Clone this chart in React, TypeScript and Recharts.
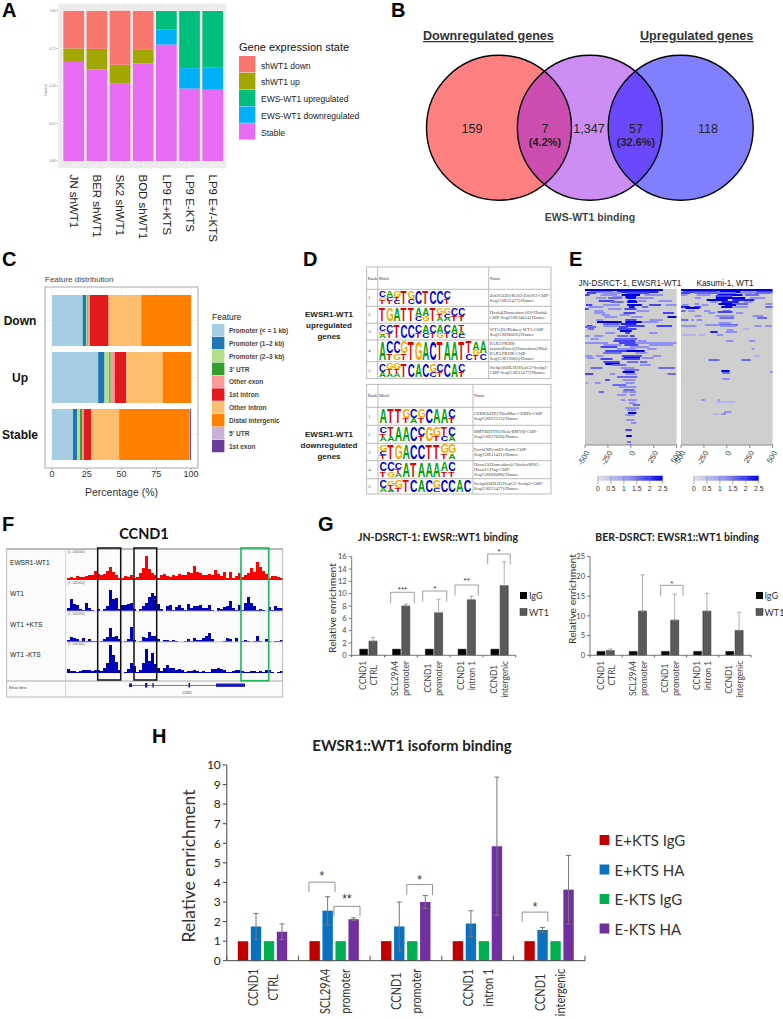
import {
  Bar,
  BarChart,
  CartesianGrid,
  ErrorBar,
  ReferenceArea,
  Scatter,
  ScatterChart,
  XAxis,
  YAxis,
} from "recharts";

// ---- panel A
const cellLines = ["JN shWT1", "BER shWT1", "SK2 shWT1", "BOD shWT1", "LP9 E+KTS", "LP9 E-KTS", "LP9 E+/-KTS"];
const stableFrac = [0.66, 0.61, 0.517, 0.65, 0.776, 0.483, 0.479];
const ewsDownFrac = [0, 0, 0, 0, 0.1, 0.136, 0.144];
const ewsUpFrac = [0, 0, 0, 0, 0.124, 0.381, 0.377];
const shUpFrac = [0.09, 0.137, 0.124, 0.09, 0, 0, 0];
const shDownFrac = [0.25, 0.253, 0.36, 0.26, 0, 0, 0];
const fractionTicks = [0, 0.25, 0.5, 0.75, 1];
const geneStates = ["shWT1 down", "shWT1 up", "EWS-WT1 upregulated", "EWS-WT1 downregulated", "Stable"];
const geneStateColors = ["#f8766d", "#a3a500", "#00bf7d", "#00b0f6", "#e76bf3"];

// ---- panel B
const vennSets = [0, 1, 2];
const vennFills = ["#ff8080", "#cc8ef5", "#8080ff"];
const vennLenses = [0.5, 1.5];
const vennLensFills = ["#cc4db0", "#6a48fb"];

// ---- panel C
const peakGroups = ["Down", "Up", "Stable"];
const featureNames = [
  "Promoter (< = 1 kb)", "Promoter (1–2 kb)", "Promoter (2–3 kb)", "3' UTR", "Other exon",
  "1st intron", "Other intron", "Distal intergenic", "5' UTR", "1st exon",
];
const featureColors = ["#a6cee3", "#1f78b4", "#b2df8a", "#33a02c", "#fb9a99", "#e31a1c", "#fdbf6f", "#ff7f00", "#cab2d6", "#6a3d9a"];
const downShares = [22.1, 2.4, 1, 0.7, 1, 13.5, 23.5, 35.8, 0, 0];
const upShares = [33.2, 4.6, 3.4, 1, 2.9, 8.4, 26, 20.5, 0, 0];
const stableShares = [15.1, 2.9, 2.2, 1.4, 1.2, 5.5, 20, 50.7, 0.2, 0.7];
const percentTicks = [0, 25, 50, 75, 100];

// ---- panel D
const upMotifs = [
  ["CGT", "ACT", "GTC", "T", "GC", "C", "T", "C", "C", "CT"],
  ["T", "G", "A", "T", "T", "AC", "AG", "T", "GTA", "GCA", "CT", "CT"],
  ["CGA", "CT", "T", "C", "C", "CT", "AC", "CT", "AG", "CT", "AC", "TAC"],
  ["A", "CT", "CG", "GT", "T", "G", "A", "C", "T", "A", "A", "T", "TC", "AGT", "AC"],
  ["CA", "GTA", "GTA", "T", "C", "A", "C", "GC", "CT", "C", "A", "CT"],
];
const downMotifs = [
  ["A", "T", "T", "GT", "CA", "GT", "C", "A", "A", "CT"],
  ["CTA", "TA", "A", "A", "C", "CT", "G", "GT", "TC", "CA"],
  ["GCT", "T", "G", "A", "C", "C", "T", "T", "GT", "GA"],
  ["CT", "CG", "CTA", "A", "T", "A", "A", "A", "AT", "CT"],
  ["CA", "GTA", "GT", "T", "C", "A", "C", "GC", "C", "C", "A", "C"],
];
const upMotifNames = [
  ["Znf263(Zf)/K562-Znf263-ChIP-", "Seq(GSE31477)/Homer"],
  ["Hoxb4(Homeobox)/ES-Hoxb4-", "ChIP-Seq(GSE34014)/Homer"],
  ["WT1(Zf)/Kidney-WT1-ChIP-", "Seq(GSE90016)/Homer"],
  ["PAX3:FKHR-", "fusion(Paired,Homeobox)/Rh4-", "PAX3:FKHR-ChIP-", "Seq(GSE19063)/Homer"],
  ["Srebp2(bHLH)/HepG2-Srebp2-", "ChIP-Seq(GSE31477)/Homer"],
];
const downMotifNames = [
  ["CEBP(bZIP)/ThioMac-CEBPb-ChIP-", "Seq(GSE21512)/Homer"],
  ["BMYB(HTH)/Hela-BMYB-ChIP-", "Seq(GSE27030)/Homer"],
  ["Esrrb(NR)/mES-Esrrb-ChIP-", "Seq(GSE11431)/Homer"],
  ["Hoxa13(Homeobox)/ChickenMSG-", "Hoxa13.Flag-ChIP-", "Seq(GSE86088)/Homer"],
  ["Srebp2(bHLH)/HepG2-Srebp2-ChIP-", "Seq(GSE31477)/Homer"],
];

// ---- panel E: [row, from, to, level]
const jnStreaks = [
  [0, -500, 350, 3], [2, -450, -200, 1.5], [2, -150, 300, 2.5], [3, -480, -380, 2], [3, -300, -100, 1], [3, -50, 200, 2],
  [5, -500, -450, 2], [5, -330, -150, 1], [5, -100, 100, 3], [5, 150, 350, 1], [7, -200, -90, 1], [7, -60, 60, 3],
  [8, -380, -270, 1], [8, -250, -100, 1.5], [8, -50, 50, 3], [8, 60, 250, 1], [11, -350, -180, 2], [11, -30, 60, 3],
  [11, 80, 170, 1], [11, 300, 450, 1], [12, -220, -80, 1.5], [12, -40, 70, 3], [15, -490, -420, 2], [15, -300, -120, 1],
  [15, -40, 120, 3], [15, 200, 330, 2], [15, 380, 500, 1], [17, -460, -300, 1], [17, -20, 40, 3], [17, 120, 190, 1.5],
  [19, -500, -460, 2], [19, -250, -100, 1], [19, -70, 60, 2], [21, -400, -300, 1], [21, 60, 200, 1], [23, -400, -280, 1],
  [23, -80, 50, 2], [23, 350, 470, 2], [25, -320, -230, 1], [25, -120, -10, 1], [27, -290, -150, 1], [27, 0, 130, 1],
  [27, 400, 500, 3], [30, -380, -300, 1], [30, -60, 60, 2], [30, 200, 350, 1], [32, -370, -100, 3], [32, -60, 120, 3],
  [32, 120, 300, 1], [34, -300, -120, 1.5], [34, -110, 60, 2.5], [36, -480, -420, 2], [36, -300, -130, 1], [36, -60, 150, 2],
  [36, 280, 450, 2], [37, -500, -380, 1.5], [37, -130, -30, 2], [39, -470, -400, 1.5], [39, -150, 60, 2], [41, -120, 10, 3],
  [43, -280, -170, 1], [43, -60, -10, 2], [43, 200, 290, 1], [46, -500, -450, 1], [46, -400, -300, 1], [46, -150, -30, 1.5],
  [46, -10, 40, 2], [49, -440, -350, 1], [49, -180, 70, 1.5], [51, -190, 50, 2], [51, 80, 170, 1], [53, -500, -250, 1],
  [53, -130, 50, 2], [53, 50, 500, 1], [55, -300, -100, 1], [55, -70, 80, 2], [55, 200, 460, 1], [57, -330, -150, 2],
  [57, -10, 200, 1], [59, -150, 50, 1], [59, 180, 280, 1], [61, -280, -50, 2], [61, -50, 150, 3], [63, -300, -100, 1.5],
  [63, 50, 180, 1], [66, -500, -420, 1], [66, -380, -300, 1], [66, -100, 120, 2], [66, 240, 330, 1], [68, -480, -400, 1],
  [68, -80, 100, 3], [68, 120, 250, 1], [69, -330, -200, 2], [69, -100, 100, 2], [72, -300, -120, 2], [72, -40, 80, 1.5],
  [72, 100, 180, 1.5], [74, -280, -120, 3], [75, -200, -50, 1.5], [75, 100, 220, 1], [78, -440, -310, 1.5], [78, -110, 40, 1],
  [78, 300, 480, 1.5], [80, -70, 90, 1.5], [82, -90, 40, 3], [84, -500, -410, 2], [84, -230, -170, 1], [84, -60, 60, 1],
  [84, 400, 490, 1.5], [87, -150, 70, 1.5], [90, -280, -230, 2], [90, -90, 50, 1], [93, -490, -470, 1], [93, -390, -330, 1],
  [93, -60, 40, 1], [95, -200, -50, 1.5], [97, -130, 60, 1], [100, -80, 40, 1.5], [102, -350, -290, 1.5], [102, -90, -30, 1],
  [102, -20, 60, 1], [105, -150, -50, 1], [105, -10, 50, 1], [110, -110, -60, 1], [110, -30, 70, 1], [113, -20, 50, 1],
  [115, 20, 100, 1.5], [118, -60, 90, 1], [120, -40, 60, 1], [123, -30, 60, 3], [125, -60, 40, 1], [130, -50, 40, 1],
  [133, 0, 60, 1], [140, -60, 10, 2], [146, -50, 10, 3], [152, -40, 0, 1.5], [155, -30, 20, 1],
];
const kasumiStreaks = [
  [0, -500, 500, 3], [2, -480, -100, 2], [2, -80, 150, 3], [2, 170, 300, 1], [2, 320, 500, 2], [3, -500, -400, 2],
  [3, -350, 100, 1.5], [3, 150, 280, 1], [3, 300, 480, 1.5], [5, -500, -430, 1], [5, -330, -180, 1], [5, -100, 170, 3],
  [5, 200, 350, 1.5], [6, -120, 60, 2], [8, -350, -280, 1], [8, -120, 200, 3], [8, 250, 420, 1], [10, -220, 10, 3],
  [10, 60, 300, 2.5], [12, -180, -100, 1], [12, -60, 130, 2.5], [12, 180, 280, 1], [14, -350, -300, 1], [14, -90, 60, 3],
  [14, 60, 230, 1.5], [14, 420, 500, 1], [15, -490, -420, 1], [15, -270, -200, 1], [15, -20, 100, 3], [17, -500, -400, 2.5],
  [17, -360, -280, 2], [17, -60, 60, 3], [17, 80, 230, 1], [17, 420, 500, 1.5], [18, -450, -300, 3], [21, -500, -450, 1.5],
  [21, -420, -350, 1], [21, -250, -180, 1], [21, -40, 40, 1.5], [22, -100, 60, 2], [23, -200, -130, 1], [23, 100, 180, 1],
  [26, -350, -280, 1], [26, -120, 80, 1], [26, 280, 400, 1], [28, -80, 80, 1.5], [28, 330, 440, 1.5], [30, -500, -420, 1.5],
  [30, -390, -360, 1], [30, -330, -270, 1], [33, -90, 50, 1], [35, -240, -80, 1], [35, -80, 120, 1.5], [36, -500, -330, 1],
  [36, -70, 100, 1], [36, 300, 380, 1], [36, 420, 490, 1], [39, 170, 240, 0.5], [40, 0, 70, 1], [42, -180, -100, 2.5],
  [42, -10, 110, 1], [45, -500, -340, 0.5], [45, -310, -240, 0.5], [45, -110, -40, 1], [51, -10, 70, 1], [51, 240, 310, 1],
  [59, 270, 300, 1], [66, 290, 360, 0.5], [70, -200, -80, 1.5], [70, 160, 260, 1.5], [81, -60, 30, 3], [82, 470, 500, 1],
  [83, -50, 30, 1.5], [89, -50, 30, 1], [110, -280, -240, 1], [110, -100, -80, 1], [112, -120, 90, 0.5], [122, -30, 50, 1],
  [124, -150, -80, 0.5], [124, -60, -10, 1],
];
const heatTicks = [-500, -250, 0, 250, 500];
const colorbarLabels = ["0", "0.5", "1", "1.5", "2", "2.5"];

// ---- panel F, one height per genome bin
const ewsr1Track = [2,3,2,4,3,3,4,5,5,9,6,5,6,9,13,8,5,2,2,4,3,5,2,3,7,12,24,11,7,5,2,5,6,4,3,5,4,6,5,5,8,7,14,8,7,5,5,6,5,10,6,4,8,2,8,2,4,7,3,5,7,12,8,18,13,9,6,2,4,4,3,2];
const wt1Track = [3,12,7,6,2,1,8,3,1,0,2,0,2,5,21,12,13,2,6,6,7,8,2,0,2,5,8,14,18,15,7,2,0,5,6,1,4,6,3,1,7,3,5,5,6,3,3,6,1,0,3,2,4,5,10,3,1,6,1,8,14,8,5,1,2,1,0,4,1,5,3,3];
const wt1PlusTrack = [2,5,4,3,1,4,1,3,1,1,0,1,3,5,14,5,6,3,0,1,3,15,2,0,1,5,4,10,6,6,3,0,2,2,1,2,1,0,0,1,3,1,4,2,2,4,6,9,3,0,0,0,1,4,3,0,4,0,1,2,1,0,1,6,1,0,3,1,0,1,1,2];
const wt1MinusTrack = [4,2,2,1,2,3,3,3,2,3,3,2,5,10,28,18,11,3,0,1,4,10,7,1,3,10,24,12,20,9,5,2,5,8,5,5,3,4,3,1,2,2,3,2,1,2,1,1,4,4,5,4,3,1,1,2,3,3,2,1,1,2,2,1,2,1,3,3,1,0,1,2];
const trackNames = ["EWSR1-WT1", "WT1", "WT1 +KTS", "WT1 -KTS"];

// ---- panel G
const chipCategories = ["CCND1\nCTRL", "SCL29A4\npromoter", "CCND1\npromoter", "CCND1\nintron 1", "CCND1\nintergenic"];
const jnIgg = [1, 1, 1, 1, 1];
const jnWt1 = [2.3, 8, 6.9, 9, 11.3];
const jnWt1Err = [0.6, 0.3, 2.2, 0.6, 3.9];
const jnTicks = [0, 2, 4, 6, 8, 10, 12, 14, 16];
const berIgg = [1, 1, 1, 1, 1];
const berWt1 = [1.2, 11.2, 8.9, 11.2, 6.3];
const berWt1Err = [0.4, 9.2, 6.6, 4.5, 4.6];
const berTicks = [0, 5, 10, 15, 20, 25];

// ---- panel H
const plusIgg = [1, 1, 1, 1, 1];
const plusHa = [1.75, 2.55, 1.75, 1.9, 1.57];
const plusHaErr = [0.67, 0.72, 1.25, 0.65, 0.13];
const minusIgg = [1, 1, 1, 1, 1];
const minusHa = [1.48, 2.12, 3, 5.85, 3.63];
const minusHaErr = [0.4, 0.07, 0.33, 3.53, 1.75];
const isoformTicks = [0, 1, 2, 3, 4, 5, 6, 7, 8, 9, 10];
const isoformNames = ["E+KTS IgG", "E+KTS HA", "E-KTS IgG", "E-KTS HA"];
const isoformColors = ["#c00000", "#0a70c0", "#00b050", "#7030a0"];

const ARIAL = "'Liberation Sans', Arial, sans-serif";
const CALIBRI = "Lato, sans-serif";
const SERIF = "'Liberation Serif', serif";

const levelColor = (level: number) =>
  ({ 0.5: "#b4b4ee", 1: "#8f8ff5", 1.5: "#6a6af5", 2: "#4545f5", 2.5: "#2222f0", 3: "#0000e0" } as Record<number, string>)[level];
const letterColor: Record<string, string> = { A: "#00a000", C: "#0000d0", G: "#f4a800", T: "#e00000" };

const measureCtx = document.createElement("canvas").getContext("2d")!;
function textWidth(s: string, size: number, font: string) {
  measureCtx.font = `${size}px ${font}`;
  return measureCtx.measureText(s).width;
}

function Box({ left, top, width, height, children }: any) {
  return <div style={{ position: "absolute", left, top, width, height }}>{children}</div>;
}

// two-line rotated category label, with Excel style ticks between the groups
function GroupTick({ x, y, payload, index, count, band, size, gap, top, color, tickLen, squeeze = 1 }: any) {
  const lines = String(payload.value).split("\n");
  const longest = Math.max(...lines.map((l) => textWidth(l, size, CALIBRI))) * squeeze;
  const cy = y + top + longest / 2;
  return (
    <g>
      <line x1={x - band / 2} x2={x - band / 2} y1={y} y2={y - tickLen} stroke="#555" />
      {index === count - 1 && <line x1={x + band / 2} x2={x + band / 2} y1={y} y2={y - tickLen} stroke="#555" />}
      {lines.map((l, i) => {
        const cx = x + (i === 0 ? -gap : gap);
        return (
          <text key={l} x={cx} y={cy} transform={`rotate(-90 ${cx} ${cy})`} textAnchor="middle" dominantBaseline="central"
            textLength={textWidth(l, size, CALIBRI) * squeeze} lengthAdjust="spacingAndGlyphs"
            fontSize={size} fontFamily={CALIBRI} fill={color}>{l}</text>
        );
      })}
    </g>
  );
}

function JnOrBerChart({ left, width, plotLeft, right, igg, wt1, err, max, ticks }: any) {
  const data = chipCategories.map((cat, i) => ({ cat, igg: igg[i], wt1: wt1[i], err: [0, err[i]] }));
  const band = (width - (plotLeft - left) - right) / chipCategories.length;
  return (
    <Box left={left} top={550} width={width} height={155}>
      <BarChart width={width} height={155} data={data} barSize={8} barGap={1.3} margin={{ top: 6.7, right, bottom: 0, left: 0 }}>
        <XAxis dataKey="cat" height={49.7} interval={0} tickLine={false} tickSize={0} tickMargin={0} stroke="#777"
          tick={(p: any) => <GroupTick {...p} count={5} band={band} size={8.5} gap={5.5} top={5.5} color="#444" tickLen={-2} />} />
        <YAxis width={plotLeft - left} domain={[0, max]} ticks={ticks} interval={0} stroke="#777" tickSize={3} tickMargin={2}
          tick={{ fontSize: 7.5, fill: "#444", fontFamily: CALIBRI }} />
        <Bar dataKey="igg" fill="#000" stroke="#222" strokeWidth={0.5} isAnimationActive={false} />
        <Bar dataKey="wt1" fill="#5a5a5a" stroke="#333" strokeWidth={0.6} isAnimationActive={false}>
          <ErrorBar dataKey="err" direction="y" width={2} stroke="#999" strokeWidth={0.8} />
        </Bar>
      </BarChart>
    </Box>
  );
}

function Heatmap({ left, streaks }: any) {
  return (
    <Box left={left - 14} top={285} width={114} height={195}>
      <BarChart width={114} height={195} margin={{ top: 4, right: 4.3, bottom: 0, left: 18 }} data={[{}]}>
        <XAxis type="number" dataKey="v" domain={[-500, 500]} ticks={heatTicks} interval={0} height={35} stroke="#888" tickSize={3}
          allowDataOverflow tick={{ fontSize: 7.5, fill: "#333", fontFamily: ARIAL, angle: -60, textAnchor: "end" } as any} />
        <YAxis type="number" domain={[0, 156]} reversed hide allowDataOverflow />
        <ReferenceArea x1={-500} x2={500} y1={0} y2={156} fill="#cfcfcf" fillOpacity={1} stroke="none" ifOverflow="visible" />
        {streaks.map(([row, from, to, level]: number[], i: number) => (
          <ReferenceArea key={i} x1={from} x2={to} y1={row} y2={row + 2} fill={levelColor(level)} fillOpacity={1} stroke="none" ifOverflow="hidden" />
        ))}
      </BarChart>
    </Box>
  );
}

function Track({ values, top, color }: any) {
  const data = values.map((v: number, i: number) => ({ bin: i, v }));
  return (
    <Box left={66.7} top={top} width={216} height={30}>
      <BarChart width={216} height={30} data={data} barCategoryGap={0} margin={{ top: 0, right: 0, bottom: 0, left: 0 }}>
        <XAxis dataKey="bin" hide />
        <YAxis domain={[0, 30]} hide />
        <Bar dataKey="v" fill={color} isAnimationActive={false} />
      </BarChart>
    </Box>
  );
}

function Logo({ columns, x, top, height, colW }: any) {
  const weights: Record<number, number[]> = { 1: [1], 2: [0.62, 0.38], 3: [0.45, 0.3, 0.25] };
  return (
    <g>
      {columns.map((col: string, i: number) => {
        let y = top;
        return (
          <g key={i}>
            {col.split("").map((ch, j) => {
              const h = height * weights[col.length][j];
              y += h;
              return (
                <text key={j} transform={`translate(${x + i * colW}, ${y}) scale(${colW / 7.4}, ${h / 7.2})`} fontSize={10} fontWeight="bold"
                  fontFamily={ARIAL} fill={letterColor[ch]}>{ch}</text>
              );
            })}
          </g>
        );
      })}
    </g>
  );
}

function MotifTable({ x1, x2, col1, col2, rows, motifs, names, colW, logoX }: any) {
  return (
    <g>
      <rect x={x1} y={rows[0]} width={x2 - x1} height={rows[rows.length - 1] - rows[0]} fill="#fff" stroke="#aaa" strokeWidth={0.8} />
      {rows.slice(1, -1).map((r: number) => <line key={r} x1={x1} x2={x2} y1={r} y2={r} stroke="#aaa" strokeWidth={0.8} />)}
      <line x1={col1} x2={col1} y1={rows[0]} y2={rows[rows.length - 1]} stroke="#aaa" strokeWidth={0.8} />
      <line x1={col2} x2={col2} y1={rows[0]} y2={rows[rows.length - 1]} stroke="#aaa" strokeWidth={0.8} />
      <g fontFamily={SERIF} fontSize={4.6} fill="#444">
        <text x={x1 + 1} y={(rows[0] + rows[1]) / 2 + 1.5}>Rank</text>
        <text x={col1 + 1} y={(rows[0] + rows[1]) / 2 + 1.5}>Motif</text>
        <text x={col2 + 1} y={(rows[0] + rows[1]) / 2 + 1.5}>Name</text>
        {motifs.map((_: any, i: number) => {
          const mid = (rows[i + 1] + rows[i + 2]) / 2;
          return (
            <g key={i}>
              <text x={x1 + 1.5} y={mid + 1.5}>{i + 1}</text>
              {names[i].map((n: string, j: number) => (
                <text key={j} x={col2 + 1} y={mid + 1.5 + (j - (names[i].length - 1) / 2) * 5.2}>{n}</text>
              ))}
            </g>
          );
        })}
      </g>
      {motifs.map((m: string[], i: number) => (
        <Logo key={i} columns={m} x={logoX} top={rows[i + 1] + 1.5} height={rows[i + 2] - rows[i + 1] - 3.5} colW={colW} />
      ))}
    </g>
  );
}

function Bracket({ x1, x2, top, bottom, label, labelY, size, stroke = "#888" }: any) {
  return (
    <g>
      <path d={`M${x1} ${bottom}V${top}H${x2}V${bottom}`} fill="none" stroke={stroke} strokeWidth={0.8} />
      <text x={(x1 + x2) / 2} y={labelY + size * 0.35} textAnchor="middle" fontSize={size} fontFamily={ARIAL} fill="#333">{label}</text>
    </g>
  );
}

function PanelA() {
  const data = cellLines.map((line, i) => ({
    line, stable: stableFrac[i], ewsDown: ewsDownFrac[i], ewsUp: ewsUpFrac[i], shUp: shUpFrac[i], shDown: shDownFrac[i],
  }));
  return (
    <Box left={30} top={0} width={200} height={245}>
      <BarChart width={200} height={245} data={data} barSize={20.7} margin={{ top: 3.4, right: 3.3, bottom: 0, left: 0 }}>
        <CartesianGrid fill="#ebebeb" stroke="#fff" strokeWidth={0.5} />
        <XAxis dataKey="line" height={76.5} interval={0} padding={{ left: 4.4, right: 2.2 }} axisLine={false} tickLine={false} tickSize={0} tickMargin={0}
          tick={({ x, y, payload }: any) => (
            <text x={x} y={y + 6} transform={`rotate(90 ${x} ${y + 6})`} dominantBaseline="central" fontSize={11.5} fontFamily={ARIAL} fill="#222">{payload.value}</text>
          )} />
        <YAxis width={28} domain={[-0.05, 1.05]} ticks={fractionTicks} interval={0} axisLine={false} tickSize={1.5} tickMargin={1} stroke="#aaa"
          tickFormatter={(v: number) => v.toFixed(2)} tick={{ fontSize: 3.5, fill: "#777" }} />
        <Bar dataKey="stable" stackId="a" fill={geneStateColors[4]} isAnimationActive={false} />
        <Bar dataKey="ewsDown" stackId="a" fill={geneStateColors[3]} isAnimationActive={false} />
        <Bar dataKey="ewsUp" stackId="a" fill={geneStateColors[2]} isAnimationActive={false} />
        <Bar dataKey="shUp" stackId="a" fill={geneStateColors[1]} isAnimationActive={false} />
        <Bar dataKey="shDown" stackId="a" fill={geneStateColors[0]} isAnimationActive={false} />
      </BarChart>
    </Box>
  );
}

function PanelB() {
  const r = 72.5;
  const h = 56.5;
  const disc = (fill: string, stroke: string) => (p: any) => <circle cx={p.cx} cy={p.cy} r={r} fill={fill} stroke={stroke} strokeWidth={1.4} />;
  const lens = (fill: string) => (p: any) => (
    <path d={`M${p.cx} ${p.cy - h}A${r} ${r} 0 0 1 ${p.cx} ${p.cy + h}A${r} ${r} 0 0 1 ${p.cx} ${p.cy - h}Z`} fill={fill} />
  );
  return (
    <Box left={390} top={50} width={393} height={160}>
      <ScatterChart width={393} height={160} margin={{ top: 0, right: 102.3, bottom: 4.4, left: 109 }}>
        <XAxis type="number" dataKey="pos" domain={[0, 2]} hide />
        <YAxis type="number" dataKey="mid" domain={[0, 1]} hide />
        {vennSets.map((pos, i) => (
          <Scatter key={pos} data={[{ pos, mid: 0.5 }]} isAnimationActive={false} shape={disc(vennFills[i], "none")} />
        ))}
        {vennLenses.map((pos, i) => (
          <Scatter key={pos} data={[{ pos, mid: 0.5 }]} isAnimationActive={false} shape={lens(vennLensFills[i])} />
        ))}
        {vennSets.map((pos) => (
          <Scatter key={pos} data={[{ pos, mid: 0.5 }]} isAnimationActive={false} shape={disc("none", "#000")} />
        ))}
      </ScatterChart>
    </Box>
  );
}

function PanelC() {
  const shares = [downShares, upShares, stableShares];
  const data = peakGroups.map((group, g) => {
    const row: Record<string, any> = { group };
    featureNames.forEach((f, i) => { row[f] = shares[g][i]; });
    return row;
  });
  return (
    <Box left={0} top={280} width={210} height={220}>
      <BarChart layout="vertical" width={210} height={220} data={data} barSize={51} margin={{ top: 7, right: 12, bottom: 0, left: 0 }}>
        <CartesianGrid stroke="#f0f0f0" />
        <XAxis type="number" domain={[-5, 105]} ticks={percentTicks} interval={0} height={32} stroke="#999" tickSize={2} tickMargin={1} axisLine={false}
          tick={{ fontSize: 9, fill: "#333", fontFamily: ARIAL }} label={{ value: "Percentage (%)", position: "insideBottom", offset: 4, fontSize: 10.5, fill: "#333", fontFamily: ARIAL }} />
        <YAxis type="category" dataKey="group" width={45} padding={{ top: 5, bottom: 5 }} axisLine={false} tickLine={false} interval={0}
          tick={({ y, payload }: any) => (
            <text x={20} y={y} textAnchor="middle" dominantBaseline="central" fontSize={12} fontWeight="bold" fontFamily={ARIAL} fill="#111">{payload.value}</text>
          )} />
        {featureNames.map((f, i) => (
          <Bar key={f} dataKey={f} stackId="f" fill={featureColors[i]} isAnimationActive={false} />
        ))}
      </BarChart>
    </Box>
  );
}

function PanelG() {
  return (
    <>
      <JnOrBerChart left={322} width={200} plotLeft={351.7} right={6.3} igg={jnIgg} wt1={jnWt1} err={jnWt1Err} max={16} ticks={jnTicks} />
      <JnOrBerChart left={560} width={200} plotLeft={590} right={9} igg={berIgg} wt1={berWt1} err={berWt1Err} max={25} ticks={berTicks} />
    </>
  );
}

function PanelH() {
  const data = chipCategories.map((cat, i) => ({
    cat, plusIgg: plusIgg[i], plusHa: plusHa[i], plusErr: plusHaErr[i], minusIgg: minusIgg[i], minusHa: minusHa[i], minusErr: minusHaErr[i],
  }));
  const whisker = { direction: "y" as const, width: 2.5, stroke: "#777", strokeWidth: 1 };
  return (
    <Box left={195} top={755} width={395} height={264}>
      <BarChart width={395} height={264} data={data} barSize={10.4} barGap={2.6} margin={{ top: 10, right: 5, bottom: 0, left: 0 }}>
        <XAxis dataKey="cat" height={58.3} interval={0} tickLine={false} tickSize={0} tickMargin={0} stroke="#444"
          tick={(p: any) => <GroupTick {...p} count={5} band={71.6} size={14} gap={10} top={8} color="#333" tickLen={5} squeeze={0.78} />} />
        <YAxis width={31.8} domain={[0, 10]} ticks={isoformTicks} interval={0} stroke="#444" tickSize={4} tickMargin={2}
          tick={{ fontSize: 12, fill: "#222", fontFamily: CALIBRI }} />
        <Bar dataKey="plusIgg" fill={isoformColors[0]} isAnimationActive={false} />
        <Bar dataKey="plusHa" fill={isoformColors[1]} isAnimationActive={false}>
          <ErrorBar dataKey="plusErr" {...whisker} />
        </Bar>
        <Bar dataKey="minusIgg" fill={isoformColors[2]} isAnimationActive={false} />
        <Bar dataKey="minusHa" fill={isoformColors[3]} isAnimationActive={false}>
          <ErrorBar dataKey="minusErr" {...whisker} />
        </Bar>
      </BarChart>
    </Box>
  );
}

function Overlay() {
  const letters: [string, number, number][] = [
    ["A", 2, 17], ["B", 391, 17], ["C", 2, 266], ["D", 303, 266], ["E", 569, 266], ["F", 2, 531], ["G", 318, 531], ["H", 152, 743],
  ];
  const t1Rows = [267, 289.3, 306.3, 323.3, 340, 361.7, 378.7];
  const t2Rows = [384.3, 407.3, 425.3, 443.3, 460.7, 478.7, 494];
  const trackLabelY = [565, 596, 627, 657];
  const cbLeft = [598, 694];
  return (
    <svg width={783} height={1019} style={{ position: "absolute", left: 0, top: 0, pointerEvents: "none" }}>
      <defs>
        <linearGradient id="cb">
          <stop offset="0" stopColor="#e4e4e4" />
          <stop offset="0.5" stopColor="#8c8cf4" />
          <stop offset="1" stopColor="#0000e8" />
        </linearGradient>
      </defs>
      {letters.map(([l, x, y]) => (
        <text key={l} x={x} y={y} fontSize={20} fontWeight="bold" fontFamily={ARIAL} fill="#000">{l}</text>
      ))}

      {/* A */}
      <text x={47} y={90} transform="rotate(-90 47 90)" textAnchor="middle" fontSize={3.5} fill="#555">Fraction</text>
      <text x={239} y={51} fontSize={11} fontFamily={ARIAL} fill="#111">Gene expression state</text>
      {geneStates.map((s, i) => (
        <g key={s}>
          <rect x={239} y={56 + i * 16.8} width={16.4} height={16.4} fill={geneStateColors[i]} />
          <text x={261} y={65.5 + i * 16.8} dominantBaseline="central" fontSize={8.5} fontFamily={ARIAL} fill="#222">{s}</text>
        </g>
      ))}

      {/* B */}
      <text x={423} y={40} fontSize={12.6} fontWeight="bold" fontFamily={ARIAL} fill="#333" textDecoration="underline">Downregulated genes</text>
      <text x={640} y={40} fontSize={12.6} fontWeight="bold" fontFamily={ARIAL} fill="#333" textDecoration="underline">Upregulated genes</text>
      <text x={590} y={221} textAnchor="middle" fontSize={10.5} fontWeight="bold" fontFamily={ARIAL} fill="#444">EWS-WT1 binding</text>
      <g fontFamily={ARIAL} fontSize={12.5} fill="#222" textAnchor="middle">
        <text x={472} y={132.5}>159</text>
        <text x={545} y={132.5}>7</text>
        <text x={589} y={132.5}>1,347</text>
        <text x={636} y={132.5}>57</text>
        <text x={708} y={132.5}>118</text>
        <text x={545} y={146} fontWeight="bold" fontSize={11}>(4.2%)</text>
        <text x={636} y={146} fontWeight="bold" fontSize={11}>(32.6%)</text>
      </g>

      {/* C */}
      <text x={45} y={282} fontSize={8} fontFamily={ARIAL} fill="#444">Feature distribution</text>
      <rect x={45} y={287} width={153} height={181} fill="none" stroke="#bbb" strokeWidth={1.2} />
      <text x={212} y={320} fontSize={8.5} fontFamily={ARIAL} fill="#222">Feature</text>
      {featureNames.map((f, i) => (
        <g key={f}>
          <rect x={212} y={324 + i * 12.87} width={12.4} height={12.4} fill={featureColors[i]} />
          <text x={229} y={330.5 + i * 12.87} dominantBaseline="central" fontSize={6.5} fontFamily={ARIAL} fontWeight="bold" fill="#444">{f}</text>
        </g>
      ))}

      {/* D */}
      <g fontFamily={ARIAL} fontSize={8} fontWeight="bold" fill="#222" textAnchor="middle">
        <text x={329} y={317}>EWSR1-WT1</text>
        <text x={329} y={328}>upregulated</text>
        <text x={329} y={339}>genes</text>
        <text x={329} y={437}>EWSR1-WT1</text>
        <text x={329} y={448}>downregulated</text>
        <text x={329} y={459}>genes</text>
      </g>
      <MotifTable x1={366.7} x2={551} col1={377.7} col2={488.7} rows={t1Rows} motifs={upMotifs} names={upMotifNames} colW={7.2} logoX={379} />
      <MotifTable x1={366.7} x2={551} col1={378} col2={473} rows={t2Rows} motifs={downMotifs} names={downMotifNames} colW={7.65} logoX={379.5} />

      {/* E */}
      <text x={630} y={286} textAnchor="middle" fontSize={8.3} fontFamily={ARIAL} fill="#222">JN-DSRCT-1, EWSR1-WT1</text>
      <text x={725} y={286} textAnchor="middle" fontSize={8.3} fontFamily={ARIAL} fill="#222">Kasumi-1, WT1</text>
      {cbLeft.map((x) => (
        <g key={x}>
          <rect x={x} y={475.7} width={64.7} height={5} fill="url(#cb)" />
          {colorbarLabels.map((l, i) => (
            <g key={l}>
              <line x1={x + i * 12.94} x2={x + i * 12.94} y1={476} y2={484} stroke="#777" strokeWidth={0.6} />
              <text x={x + i * 12.94} y={491} textAnchor="middle" fontSize={6.8} fontFamily={ARIAL} fill="#333">{l}</text>
            </g>
          ))}
        </g>
      ))}

      {/* F */}
      <text x={144} y={539} textAnchor="middle" fontSize={14.5} fontWeight="bold" fontFamily={CALIBRI} fill="#111">CCND1</text>
      <rect x={6.7} y={549} width={276} height={148} fill="none" stroke="#aaa" strokeWidth={0.8} />
      <line x1={6.7} x2={282.7} y1={549} y2={549} stroke="#999" strokeWidth={1.2} />
      <line x1={65.7} x2={65.7} y1={549} y2={697} stroke="#ccc" strokeWidth={0.8} />
      <line x1={6.7} x2={282.7} y1={681} y2={681} stroke="#aaa" strokeWidth={1} />
      {trackNames.map((n, i) => (
        <g key={n}>
          <text x={10} y={trackLabelY[i]} fontSize={6.6} fontFamily={ARIAL} fill="#222">{n}</text>
          <text x={68} y={553 + i * 30.8} fontSize={2.6} fontFamily={ARIAL} fill="#666">[0 - 50000000]</text>
        </g>
      ))}
      <rect x={66.7} y={610.6} width={216} height={0.9} fill="#b4b4e0" />
      <rect x={66.7} y={641.4} width={216} height={0.9} fill="#b4b4e0" />
      <rect x={97.7} y={548} width={23} height={132} fill="none" stroke="#111" strokeWidth={1.5} />
      <rect x={134} y={548} width={22.7} height={132} fill="none" stroke="#111" strokeWidth={1.5} />
      <rect x={241} y={548} width={27.7} height={132.7} fill="none" stroke="#1db45a" strokeWidth={1.6} />
      <text x={9} y={689} fontSize={2.8} fontFamily={ARIAL} fill="#444">Refseq Genes</text>
      <text x={187} y={694} textAnchor="middle" fontSize={2.8} fontFamily={ARIAL} fill="#444">CCND1</text>
      <g fill="#1a1ab4">
        <rect x={130} y={685} width={115} height={0.6} />
        <rect x={129} y={683.5} width={3} height={3.5} />
        <rect x={145} y={683} width={2.4} height={4.5} />
        <rect x={152.4} y={683} width={1.4} height={4.5} />
        <rect x={188.5} y={683} width={1.6} height={4.5} />
        <rect x={216} y={683.5} width={29} height={3.4} />
      </g>

      {/* G */}
      <text x={438} y={541} textAnchor="middle" fontSize={10.5} fontWeight="bold" fontFamily={CALIBRI} fill="#222">JN-DSRCT-1: EWSR::WT1 binding</text>
      <text x={677} y={541} textAnchor="middle" fontSize={10.5} fontWeight="bold" fontFamily={CALIBRI} fill="#222">BER-DSRCT: EWSR1::WT1 binding</text>
      <text x={332} y={608} transform="rotate(-90 332 608)" textAnchor="middle" dominantBaseline="central" fontSize={10.3} fontFamily={CALIBRI} fill="#333">Relative enrichment</text>
      <text x={572} y={599} transform="rotate(-90 572 599)" textAnchor="middle" dominantBaseline="central" fontSize={10.3} fontFamily={CALIBRI} fill="#333">Relative enrichment</text>
      <Bracket x1={390.7} x2={414.3} top={592.3} bottom={603.3} label="***" labelY={589.5} size={8} />
      <Bracket x1={422.7} x2={446.7} top={591} bottom={601.7} label="*" labelY={588.5} size={8} />
      <Bracket x1={455} x2={478.3} top={585} bottom={595.7} label="**" labelY={580.5} size={8} />
      <Bracket x1={487.7} x2={510.3} top={554} bottom={564.3} label="*" labelY={551.5} size={8} />
      <Bracket x1={660.7} x2={683} top={585.3} bottom={596} label="*" labelY={583} size={8} />
      {[[520, 529], [756, 764.5]].map(([sx, tx]) => (
        <g key={sx}>
          <rect x={sx} y={592} width={7} height={7} fill="#000" />
          <text x={tx} y={595.7} dominantBaseline="central" fontSize={9} fontFamily={CALIBRI} fill="#333">IgG</text>
          <rect x={sx} y={608.5} width={7} height={7} fill="#5a5a5a" stroke="#333" strokeWidth={0.5} />
          <text x={tx} y={612} dominantBaseline="central" fontSize={9} fontFamily={CALIBRI} fill="#333">WT1</text>
        </g>
      ))}

      {/* H */}
      <text x={412} y={751} textAnchor="middle" fontSize={15} fontWeight="bold" fontFamily={CALIBRI} fill="#222">EWSR1::WT1 isoform binding</text>
      <text x={188} y={866} transform="rotate(-90 188 866)" textAnchor="middle" dominantBaseline="central" fontSize={17.5} fontFamily={CALIBRI} fill="#333">Relative enrichment</text>
      <Bracket x1={308.9} x2={335} top={882.1} bottom={892.1} label="*" labelY={876} size={12} stroke="#777" />
      <Bracket x1={333.9} x2={360} top={906.4} bottom={916.4} label="**" labelY={899} size={12} stroke="#777" />
      <Bracket x1={406.8} x2={432.5} top={884.6} bottom={895} label="*" labelY={879.5} size={12} stroke="#777" />
      <Bracket x1={522.1} x2={547.9} top={912.1} bottom={921.8} label="*" labelY={907} size={12} stroke="#777" />
      {isoformNames.map((n, i) => (
        <g key={n}>
          <rect x={599.6} y={835 + i * 29.5} width={9.7} height={10} fill={isoformColors[i]} />
          <text x={614.6} y={840 + i * 29.5} dominantBaseline="central" fontSize={15} fontFamily={CALIBRI} fill="#333">{n}</text>
        </g>
      ))}
    </svg>
  );
}

export default function App() {
  return (
    <div style={{ position: "absolute", left: 0, top: 0, width: 783, height: 1019, background: "#fff", overflow: "hidden" }}>
      <PanelA />
      <PanelB />
      <PanelC />
      <Heatmap left={581} streaks={jnStreaks} />
      <Heatmap left={677} streaks={kasumiStreaks} />
      <div style={{ position: "absolute", left: 7, top: 549, width: 276, height: 148, background: "#fbfbfb" }} />
      <Track values={ewsr1Track} top={550.3} color="#ff0000" />
      <Track values={wt1Track} top={581.3} color="#0000b4" />
      <Track values={wt1PlusTrack} top={612.3} color="#0000b4" />
      <Track values={wt1MinusTrack} top={643} color="#0000b4" />
      <PanelG />
      <PanelH />
      <Overlay />
    </div>
  );
}
